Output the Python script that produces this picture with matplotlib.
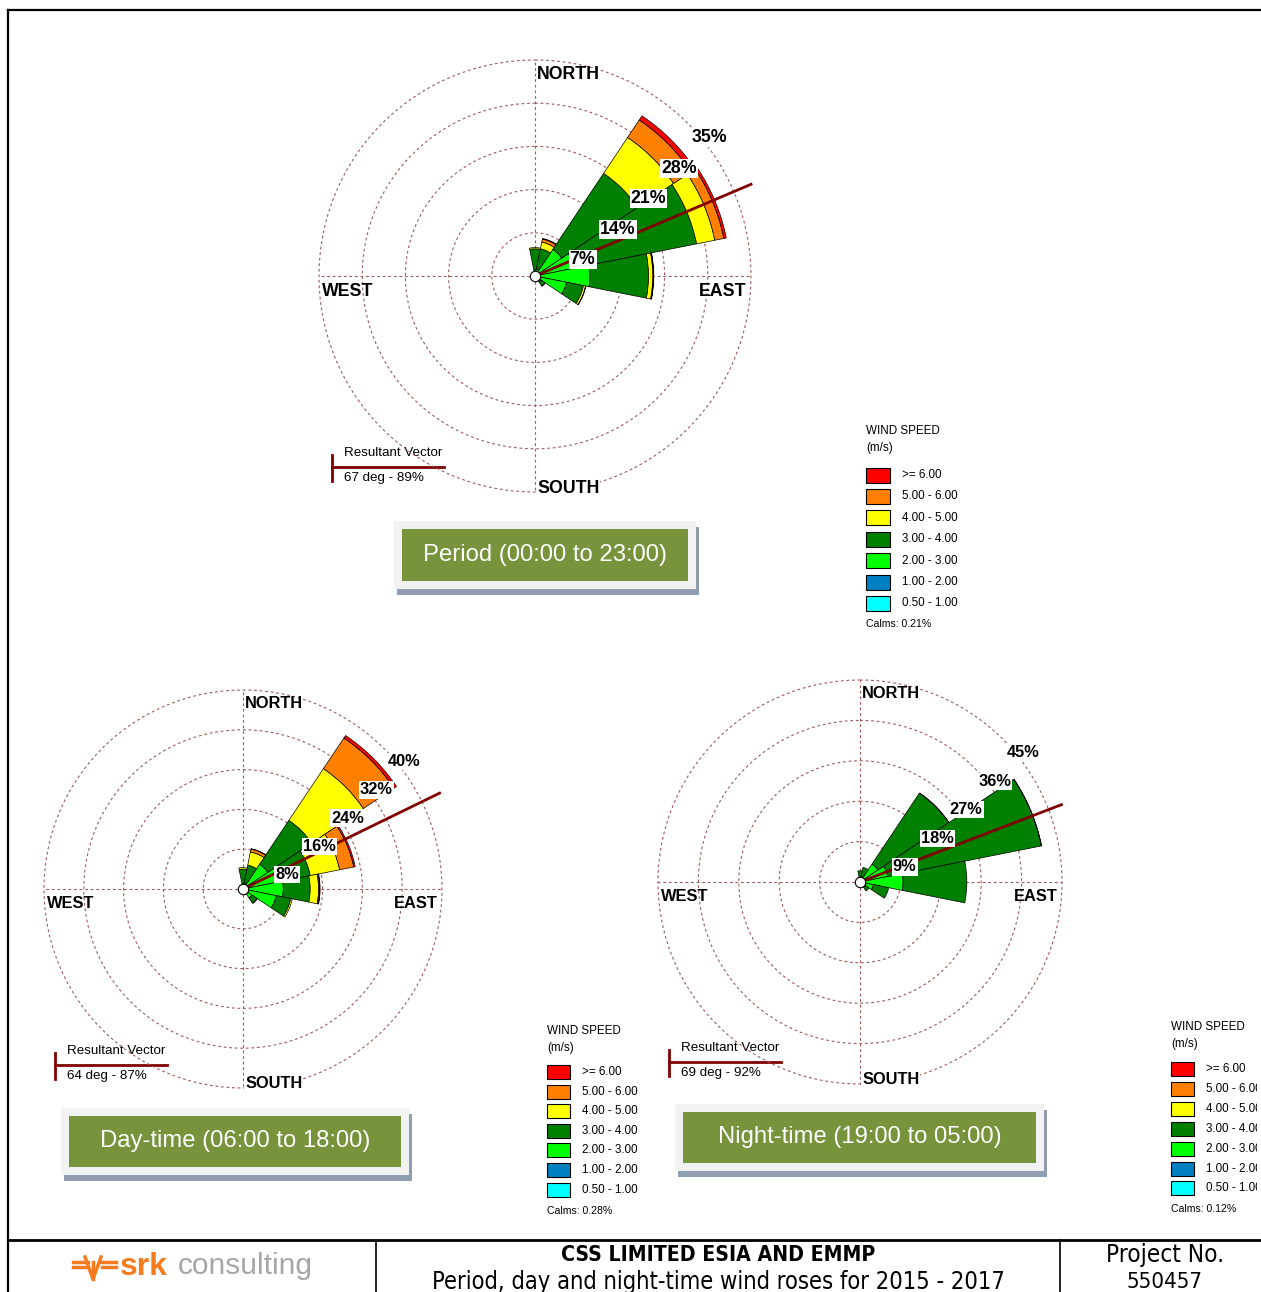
import matplotlib
matplotlib.use("Agg")
import matplotlib.pyplot as plt
import numpy as np
from matplotlib.patches import Rectangle
from matplotlib.transforms import Bbox

W, H = 1261, 1292

directions = ["N", "NNE", "NE", "ENE", "E", "ESE", "SE", "SSE",
              "S", "SSW", "SW", "WSW", "W", "WNW", "NW", "NNW"]
speed_labels = ["0.50 - 1.00", "1.00 - 2.00", "2.00 - 3.00", "3.00 - 4.00",
                "4.00 - 5.00", "5.00 - 6.00", ">= 6.00"]
speed_colors = ["#00FFFF", "#0080C0", "#00FF00", "#008000",
                "#FFFF00", "#FF8000", "#FF0000"]

# frequency (%) per direction for each speed class, whole period
period_050_100 = [.05, .05, .05, .05, .05, .05, .05, .05, .03, .02, .02, .02, .02, .02, .02, .03]
period_100_200 = [.15, .15, .25, .25, .25, .20, .15, .10, .05, .03, .03, .03, .03, .03, .03, .05]
period_200_300 = [.80, 1.0, 4.9, 6.2, 8.6, 4.95, 1.0, .45, .15, .05, .05, .05, .05, .05, .05, .20]
period_300_400 = [3.4, 3.3, 14.8, 20.2, 9.5, 2.8, .75, .20, .05, .02, .02, .02, .02, .02, .02, .10]
period_400_500 = [.20, 1.1, 7.0, 3.0, .70, .35, .05, 0, 0, 0, 0, 0, 0, 0, 0, 0]
period_500_600 = [0, .5, 3.4, 1.5, .10, .05, 0, 0, 0, 0, 0, 0, 0, 0, 0, 0]
period_600_up = [0, .1, .8, .4, .05, 0, 0, 0, 0, 0, 0, 0, 0, 0, 0, 0]

# day-time 06:00 - 18:00
day_050_100 = [.05, .05, .05, .05, .05, .05, .05, .05, .03, .02, .02, .02, .02, .02, .02, .03]
day_100_200 = [.15, .15, .25, .25, .25, .20, .15, .10, .05, .03, .03, .03, .03, .03, .03, .05]
day_200_300 = [.80, 1.0, 5.7, 7.7, 7.8, 6.55, 2.0, .60, .20, .05, .05, .05, .05, .05, .05, .20]
day_300_400 = [3.0, 3.7, 10.6, 5.8, 5.4, 3.0, 1.2, .30, .05, .02, .02, .02, .02, .02, .02, .10]
day_400_500 = [.30, 2.7, 12.5, 6.0, 1.7, .30, .10, 0, 0, 0, 0, 0, 0, 0, 0, 0]
day_500_600 = [0, .6, 7.4, 2.9, .20, 0, 0, 0, 0, 0, 0, 0, 0, 0, 0, 0]
day_600_up = [0, .05, .6, .3, .10, 0, 0, 0, 0, 0, 0, 0, 0, 0, 0, 0]

# night-time 19:00 - 05:00
night_050_100 = [.05, .05, .05, .05, .05, .05, .05, .05, .03, .02, .02, .02, .02, .02, .02, .03]
night_100_200 = [.15, .15, .25, .25, .25, .20, .15, .10, .05, .03, .03, .03, .03, .03, .03, .05]
night_200_300 = [.80, 1.0, 4.5, 6.0, 9.3, 2.8, 1.2, .40, .15, .05, .05, .05, .05, .05, .05, .20]
night_300_400 = [1.5, 2.1, 19.0, 34.9, 14.2, 3.45, 1.0, .20, .05, .02, .02, .02, .02, .02, .02, .10]
night_400_500 = [0, 0, .05, .05, 0, 0, 0, 0, 0, 0, 0, 0, 0, 0, 0, 0]
night_500_600 = [0] * 16
night_600_up = [0] * 16

titles = ["Period (00:00 to 23:00)", "Day-time (06:00 to 18:00)", "Night-time (19:00 to 05:00)"]
resultant_deg = [67, 64, 69]
resultant_pct = [89, 87, 92]
calms_pct = [0.21, 0.28, 0.12]

arial = ["Liberation Sans", "DejaVu Sans"]
grid_color = "#A05A5A"
vec_color = "#800000"

fig = plt.figure(figsize=(W / 100, H / 100), dpi=100)
bg = fig.add_axes([0, 0, 1, 1])
bg.set_xlim(0, W)
bg.set_ylim(H, 0)
bg.axis("off")


def draw_rose(cx, cy, radius, rmax, step, classes, vec_deg, vec_len, fs):
    ax = fig.add_axes([(cx - radius) / W, 1 - (cy + radius) / H,
                       2 * radius / W, 2 * radius / H], projection="polar")
    ax.set_theta_zero_location("N")
    ax.set_theta_direction(-1)
    ax.set_ylim(0, rmax)
    ax.axis("off")

    rings = np.arange(step, rmax + 0.01, step)
    circ = np.linspace(0, 2 * np.pi, 500)
    for r in rings:
        ax.plot(circ, np.full_like(circ, r), color=grid_color, lw=0.8,
                ls=(0, (2.5, 2.5)), zorder=1, clip_on=False)
    for a in (0, 90, 180, 270):
        ax.plot([np.deg2rad(a)] * 2, [0, rmax], color=grid_color, lw=0.8,
                ls=(0, (2.5, 2.5)), zorder=1, clip_on=False)

    theta = np.deg2rad(np.arange(len(directions)) * 22.5)
    base = np.zeros(len(directions))
    for vals, col in zip(classes, speed_colors):
        vals = np.asarray(vals, float)
        keep = vals > 0
        ax.bar(theta[keep], vals[keep], width=np.deg2rad(22.5), bottom=base[keep],
               color=col, edgecolor="black", linewidth=0.5, zorder=2)
        base = base + vals

    # resultant vector
    ax.plot([np.deg2rad(vec_deg)] * 2, [0, rmax * vec_len], color=vec_color,
            lw=2, zorder=4, clip_on=False, solid_capstyle="butt")
    ax.plot([0], [0], marker="o", ms=7.5, mfc="white", mec="black", mew=0.8,
            zorder=5, clip_on=False)

    for r in rings:
        ax.annotate(f"{r:g}%", xy=(np.deg2rad(45), r), xytext=(3, -4.3),
                    textcoords="offset points", ha="left", va="top",
                    fontsize=fs, fontweight="bold", family=arial, zorder=6,
                    bbox=dict(fc="white", ec="none", pad=0.8),
                    annotation_clip=False)

    kw = dict(textcoords="offset points", fontsize=fs, fontweight="bold",
              family=arial, annotation_clip=False, zorder=6)
    ax.annotate("NORTH", xy=(0, rmax), xytext=(1.5, -4), ha="left", va="top", **kw)
    ax.annotate("WEST", xy=(np.deg2rad(270), rmax), xytext=(2, -5), ha="left", va="top", **kw)
    ax.annotate("EAST", xy=(np.deg2rad(90), rmax), xytext=(-3, -5), ha="right", va="top", **kw)
    south = ax.annotate("SOUTH", xy=(np.pi, rmax), xytext=(1.5, 8.5), ha="left", va="top",
                        bbox=dict(fc="white", ec="none", pad=0.5), **kw)
    south.set_clip_box(Bbox.from_extents(0, H - (cy + radius + 3), W, H))
    south.set_clip_on(True)


def draw_legend(x0, y0, gap, dy, bw, bh, calms, clip_x=W):
    clip = Bbox.from_extents(0, 0, clip_x, H)
    tk = dict(fontsize=8.4, family=arial, va="center", ha="left", clip_on=True)
    bg.text(x0, y0, "WIND SPEED", **tk).set_clip_box(clip)
    bg.text(x0, y0 + 17, "(m/s)", **tk).set_clip_box(clip)
    for i, (lab, col) in enumerate(zip(speed_labels[::-1], speed_colors[::-1])):
        yc = y0 + gap + i * dy
        bg.add_patch(Rectangle((x0, yc - bh / 2), bw, bh, fc=col, ec="black", lw=0.8))
        bg.text(x0 + bw + 12, yc, lab, **tk).set_clip_box(clip)
    bg.text(x0, y0 + gap + 6 * dy + 21, f"Calms: {calms:.2f}%", fontsize=7.6,
            family=arial, va="center", ha="left", clip_on=True).set_clip_box(clip)


def draw_vector_key(x0, y0, deg, pct):
    bg.plot([x0, x0], [y0 - 12, y0 + 14], color=vec_color, lw=2)
    bg.plot([x0, x0 + 112], [y0, y0], color=vec_color, lw=2)
    bg.text(x0 + 12, y0 - 14, "Resultant Vector", fontsize=9.6, family=arial, va="center")
    bg.text(x0 + 12, y0 + 11, f"{deg} deg - {pct}%", fontsize=9.6, family=arial, va="center")


def draw_title(x0, y0, w, h, text):
    bg.add_patch(Rectangle((x0 + 3, y0 + 6), w, h, fc="#8E9DB0", ec="none"))
    bg.add_patch(Rectangle((x0, y0), w, h, fc="#F2F2F2", ec="none"))
    bg.add_patch(Rectangle((x0 + 8, y0 + 8), w - 16, h - 16, fc="#77933C", ec="none"))
    bg.text(x0 + w / 2, y0 + h / 2, text, color="white", fontsize=17.2,
            family=arial, ha="center", va="center")


period = [period_050_100, period_100_200, period_200_300, period_300_400,
          period_400_500, period_500_600, period_600_up]
day = [day_050_100, day_100_200, day_200_300, day_300_400,
       day_400_500, day_500_600, day_600_up]
night = [night_050_100, night_100_200, night_200_300, night_300_400,
         night_400_500, night_500_600, night_600_up]

draw_rose(535, 276, 216, 35, 7, period, resultant_deg[0], 1.093, 12.8)
draw_rose(243, 889, 199, 40, 8, day, resultant_deg[1], 1.106, 11.8)
draw_rose(860, 882, 202, 45, 9, night, resultant_deg[2], 1.075, 11.8)

draw_legend(866, 431, 44, 21.4, 24, 15, calms_pct[0])
draw_legend(547, 1031, 41, 19.6, 23, 14, calms_pct[1])
draw_legend(1171, 1027, 42, 19.9, 23, 14, calms_pct[2], clip_x=1257)

draw_vector_key(332, 467, resultant_deg[0], resultant_pct[0])
draw_vector_key(55, 1065, resultant_deg[1], resultant_pct[1])
draw_vector_key(669, 1062, resultant_deg[2], resultant_pct[2])

draw_title(394, 521, 302, 68, titles[0])
draw_title(61, 1108, 348, 67, titles[1])
draw_title(675, 1104, 369, 67, titles[2])

# page frame and title block
bg.plot([8, W], [10, 10], color="black", lw=1.6)
bg.plot([8, 8], [10, H], color="black", lw=1.6)
bg.plot([8, W], [1240, 1240], color="black", lw=2)
bg.plot([376, 376], [1240, H], color="black", lw=1.2)
bg.plot([1060, 1060], [1240, H], color="black", lw=1.2)

foot = dict(family=["DejaVu Sans"], fontstretch="condensed", ha="center", va="center")
bg.text(718, 1255, "CSS LIMITED ESIA AND EMMP", fontsize=15.2, fontweight="bold", **foot)
bg.text(718, 1282, "Period, day and night-time wind roses for 2015 - 2017", fontsize=17, **foot)
bg.text(1165, 1255, "Project No.", fontsize=17.5, **foot)
bg.text(1165, 1282, "550457", fontsize=16, **foot)

# srk logo
srk_orange = "#F47B20"
bg.plot([73, 88], [1262, 1262], color=srk_orange, lw=2.5)
bg.plot([73, 86], [1267, 1267], color=srk_orange, lw=2.5)
bg.plot([100, 116], [1262, 1262], color=srk_orange, lw=2.5)
bg.plot([102, 116], [1267, 1267], color=srk_orange, lw=2.5)
bg.plot([85, 93, 101], [1257, 1279, 1257], color=srk_orange, lw=2.5)
bg.plot([93, 93], [1262, 1279], color=srk_orange, lw=2.5)
bg.text(120, 1267, "srk", color=srk_orange, fontsize=23, fontweight="bold",
        family=arial, ha="left", va="center")
bg.text(178, 1266, "consulting", color="#A6A6A6", fontsize=21.5,
        family=arial, ha="left", va="center")

fig.savefig("out.png", dpi=100)
